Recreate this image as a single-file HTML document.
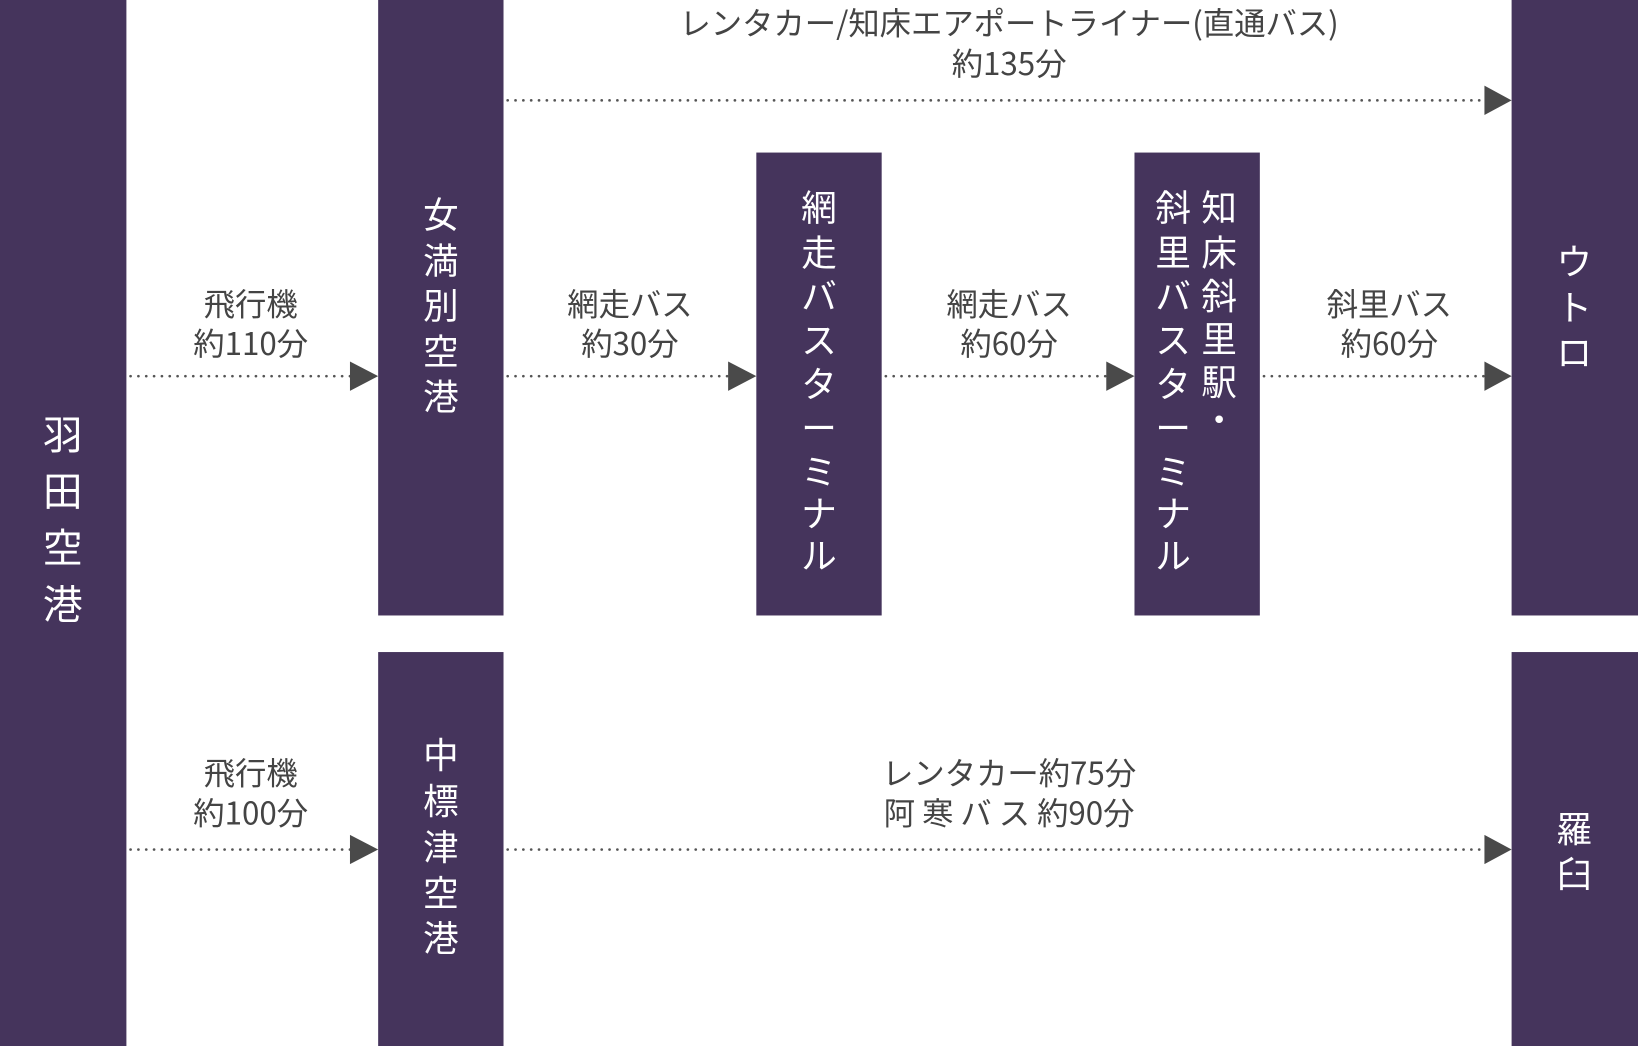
<!DOCTYPE html>
<html><head><meta charset="utf-8"><style>
html,body{margin:0;padding:0;background:#fff;}
svg{display:block;}
text{font-family:"Noto Sans CJK JP","Liberation Sans",sans-serif;}
.b{fill:#45345c;}
.w{fill:#fff;font-size:34px;text-anchor:middle;dominant-baseline:central;}
.h{font-size:38px;}
.l{fill:#444;font-size:30px;text-anchor:middle;dominant-baseline:central;}
.d{stroke:#555;stroke-width:2.6;stroke-dasharray:0 7.5;stroke-linecap:round;fill:none;}
.a{fill:#4a4a4a;}
</style></head><body>
<svg width="1638" height="1046" viewBox="0 0 1568 1001" preserveAspectRatio="none">
<rect class="b" x="0" y="0" width="121" height="1001"/>
<rect class="b" x="362" y="0" width="120" height="589"/>
<rect class="b" x="724" y="146" width="120" height="443"/>
<rect class="b" x="1086" y="146" width="120" height="443"/>
<rect class="b" x="1447" y="0" width="121" height="589"/>
<rect class="b" x="362" y="624" width="120" height="377"/>
<rect class="b" x="1447" y="624" width="121" height="377"/>

<g class="w">
<g class="h"><text x="60" y="414">羽</text><text x="60" y="468">田</text><text x="60" y="522">空</text><text x="60" y="576">港</text></g>
<text x="422" y="204">女</text><text x="422" y="248">満</text><text x="422" y="291">別</text><text x="422" y="335">空</text><text x="422" y="378">港</text>
<text x="784" y="197">網</text><text x="784" y="240">走</text><text x="784" y="282">バ</text><text x="784" y="324">ス</text><text x="784" y="366">タ</text><text x="784" y="408">ー</text><text x="784" y="450">ミ</text><text x="784" y="490">ナ</text><text x="784" y="530">ル</text>
<text x="1167" y="197">知</text><text x="1167" y="240">床</text><text x="1167" y="282">斜</text><text x="1167" y="323">里</text><text x="1167" y="364">駅</text><text x="1167" y="400">・</text>
<text x="1123" y="197">斜</text><text x="1123" y="240">里</text><text x="1123" y="282">バ</text><text x="1123" y="324">ス</text><text x="1123" y="366">タ</text><text x="1123" y="408">ー</text><text x="1123" y="450">ミ</text><text x="1123" y="490">ナ</text><text x="1123" y="530">ル</text>
<text x="1507" y="249">ウ</text><text x="1507" y="293">ト</text><text x="1507" y="336">ロ</text>
<text x="422" y="721">中</text><text x="422" y="765">標</text><text x="422" y="809">津</text><text x="422" y="853">空</text><text x="422" y="896">港</text>
<text x="1507" y="792">羅</text><text x="1507" y="835">臼</text>
</g>

<g class="l">
<text x="966" y="21">レンタカー/知床エアポートライナー(直通バス)</text>
<text x="966" y="60">約135分</text>
<text x="240" y="290">飛行機</text><text x="240" y="328">約110分</text>
<text x="603" y="290">網走バス</text><text x="603" y="328">約30分</text>
<text x="966" y="290">網走バス</text><text x="966" y="328">約60分</text>
<text x="1330" y="290">斜里バス</text><text x="1330" y="328">約60分</text>
<text x="240" y="739">飛行機</text><text x="240" y="777">約100分</text>
<text x="966" y="739">レンタカー約75分</text><text x="966" y="777">阿 寒 バ ス 約90分</text>
</g>

<path class="d" d="M486 96H1422M125 360H336M486 360H698M848 360H1060M1210 360H1422M125 813H336M486 813H1422"/>
<g class="a">
<polygon points="1421,82 1447,96 1421,110"/>
<polygon points="335,346 362,360 335,374"/>
<polygon points="697,346 724,360 697,374"/>
<polygon points="1059,346 1086,360 1059,374"/>
<polygon points="1421,346 1447,360 1421,374"/>
<polygon points="335,799 362,813 335,827"/>
<polygon points="1421,799 1447,813 1421,827"/>
</g>
</svg>
</body></html>
